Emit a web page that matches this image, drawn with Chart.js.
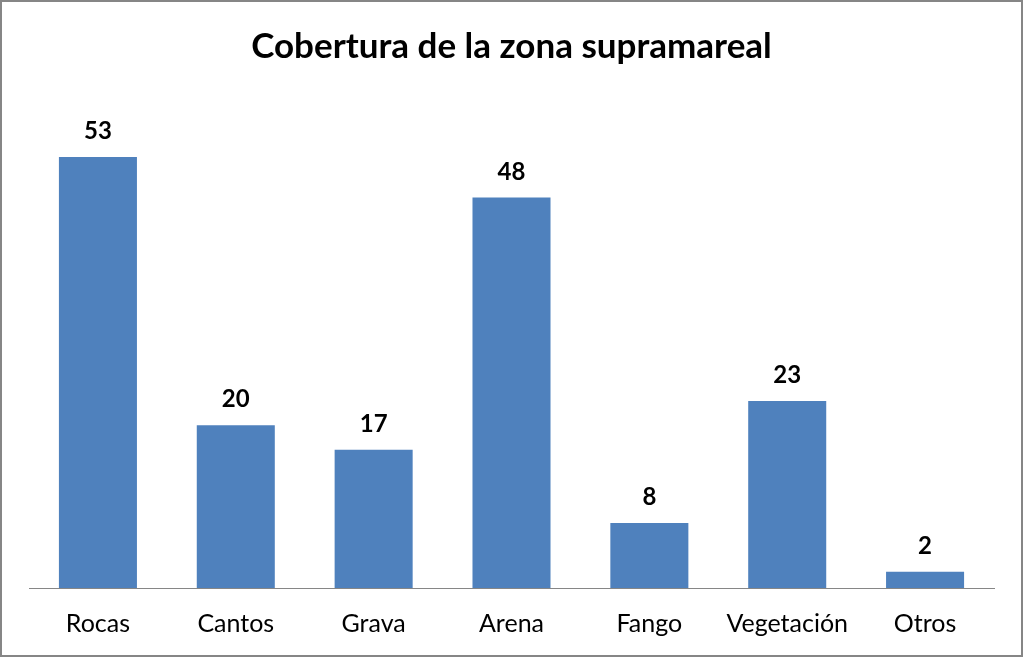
<!DOCTYPE html>
<html>
<head>
<meta charset="utf-8">
<script src="https://cdn.jsdelivr.net/npm/chart.js@4/dist/chart.umd.min.js"></script>
<style>
html,body{margin:0;padding:0;background:#fff;}
#wrap{width:1023px;height:657px;position:relative;}
</style>
</head>
<body>
<div id="wrap"><canvas id="c" width="1023" height="657"></canvas></div>
<script>
const categories = ["Rocas", "Cantos", "Grava", "Arena", "Fango", "Vegetación", "Otros"];
const values = [53, 20, 17, 48, 8, 23, 2];
const chartTitle = "Cobertura de la zona supramareal";

const FONT = "Lato, 'Open Sans', sans-serif";

const valueLabels = {
  id: 'valueLabels',
  afterDatasetsDraw(chart) {
    const ctx = chart.ctx;
    const meta = chart.getDatasetMeta(0);
    ctx.save();
    ctx.font = "bold 24px " + FONT;
    ctx.fillStyle = "#000";
    ctx.textAlign = "center";
    ctx.textBaseline = "alphabetic";
    meta.data.forEach((bar, i) => {
      ctx.fillText(String(chart.data.datasets[0].data[i]), bar.x, bar.y - 18);
    });
    ctx.restore();
  }
};

const frame = {
  id: 'frame',
  afterDraw(chart) {
    const ctx = chart.ctx;
    ctx.save();
    ctx.strokeStyle = "#868686";
    ctx.lineWidth = 2;
    ctx.strokeRect(1, 1, chart.width - 2, chart.height - 2);
    ctx.restore();
  }
};

new Chart(document.getElementById('c'), {
  type: 'bar',
  data: {
    labels: categories,
    datasets: [{
      data: values,
      backgroundColor: '#4F81BD',
      borderWidth: 0,
      categoryPercentage: 0.566,
      barPercentage: 1.0
    }]
  },
  options: {
    responsive: false,
    animation: false,
    devicePixelRatio: 1,
    layout: { padding: { left: 29, right: 29, top: 0, bottom: 0 } },
    plugins: {
      legend: { display: false },
      tooltip: { enabled: false },
      title: {
        display: true,
        text: chartTitle,
        color: '#000',
        font: { family: FONT, size: 35, weight: 'bold' },
        padding: { top: 26, bottom: 32 }
      }
    },
    scales: {
      x: {
        grid: { display: false, drawTicks: false },
        border: { display: true, color: '#868686', width: 1 },
        ticks: { color: '#000', font: { family: FONT, size: 25 }, padding: 21 },
        afterFit(scale) { scale.height = 69; }
      },
      y: {
        display: false,
        min: 0,
        max: 60
      }
    }
  },
  plugins: [valueLabels, frame]
});
</script>
</body>
</html>
